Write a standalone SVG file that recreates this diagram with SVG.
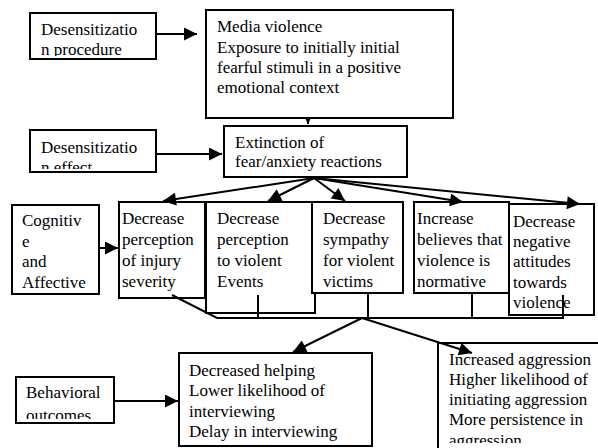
<svg xmlns="http://www.w3.org/2000/svg" width="598" height="448" viewBox="0 0 598 448">
<style>
.box{fill:#fff;stroke:#000;stroke-width:2}
.t{font-family:'Liberation Serif','DejaVu Serif',serif;font-size:17px;fill:#000}
.c{fill:none;stroke:#000;stroke-width:2}
.a{fill:none;stroke:#000;stroke-width:2;marker-end:url(#ah)}
</style>
<defs>
<marker id="ah" viewBox="0 0 12 12" refX="12" refY="6" markerWidth="14" markerHeight="13" orient="auto" markerUnits="userSpaceOnUse"><path d="M0,0 L12,6 L0,12 z" fill="#000"/></marker>
<clipPath id="cp1"><rect x="30" y="13" width="126" height="43"/></clipPath>
<clipPath id="cp2"><rect x="30" y="130" width="126" height="39"/></clipPath>
<clipPath id="cp3"><rect x="16" y="377" width="98" height="42"/></clipPath>
<clipPath id="cp4"><rect x="438" y="343" width="160" height="100"/></clipPath>
</defs>
<rect width="598" height="448" fill="#fff"/>
<g font-family="Liberation Serif, DejaVu Serif, serif">
<g id="connectors-top">
<line class="a" x1="156" y1="34" x2="197" y2="34"/>
<line class="a" x1="308" y1="118" x2="308" y2="124"/>
<line class="a" x1="156" y1="154" x2="222" y2="154"/>
</g>

<g id="n-proc">
<rect class="box" x="30" y="13" width="126" height="46"/>
<g clip-path="url(#cp1)"><text class="t" x="41" y="35">Desensitizatio</text><text class="t" x="41" y="55">n procedure</text></g>
</g>
<g id="n-media">
<rect class="box" x="206" y="10" width="247" height="108"/>
<text class="t" x="217" y="32">Media violence</text>
<text class="t" x="217" y="53">Exposure to initially initial</text>
<text class="t" x="217" y="73">fearful stimuli in a positive</text>
<text class="t" x="217" y="93">emotional context</text>
</g>
<g id="n-effect">
<rect class="box" x="30" y="130" width="126" height="42"/>
<g clip-path="url(#cp2)"><text class="t" x="41" y="153">Desensitizatio</text><text class="t" x="41" y="173">n effect</text></g>
</g>
<g id="n-extinction">
<rect class="box" x="224" y="126" width="183" height="51"/>
<text class="t" x="235" y="148">Extinction of</text>
<text class="t" x="235" y="167">fear/anxiety reactions</text>
</g>
<g id="n-cog">
<rect class="box" x="12" y="205" width="87" height="89"/>
<text class="t" x="22" y="226">Cognitiv</text>
<text class="t" x="22" y="247">e</text>
<text class="t" x="22" y="267">and</text>
<text class="t" x="22" y="288">Affective</text>
</g>
<g id="n-b2">
<rect class="box" x="206" y="202" width="109" height="111"/>
<text class="t" x="217" y="224">Decrease</text>
<text class="t" x="217" y="245">perception</text>
<text class="t" x="217" y="266">to violent</text>
<text class="t" x="217" y="287">Events</text>
</g>
<g id="n-b1">
<rect class="box" x="119" y="202" width="86" height="96"/>
<text class="t" x="122" y="224">Decrease</text>
<text class="t" x="122" y="245">perception</text>
<text class="t" x="122" y="266">of injury</text>
<text class="t" x="122" y="287">severity</text>
</g>
<g id="n-b3">
<rect class="box" x="312" y="202" width="91" height="91"/>
<text class="t" x="323" y="224">Decrease</text>
<text class="t" x="323" y="245">sympathy</text>
<text class="t" x="323" y="266">for violent</text>
<text class="t" x="323" y="287">victims</text>
</g>
<g id="n-b4">
<rect class="box" x="414" y="202" width="95" height="91"/>
<text class="t" x="417" y="224">Increase</text>
<text class="t" x="417" y="245">believes that</text>
<text class="t" x="417" y="266">violence is</text>
<text class="t" x="417" y="287">normative</text>
</g>
<g id="n-b5">
<rect class="box" x="509" y="204" width="85" height="111"/>
<text class="t" x="513" y="227">Decrease</text>
<text class="t" x="513" y="247">negative</text>
<text class="t" x="513" y="267">attitudes</text>
<text class="t" x="513" y="288">towards</text>
<text class="t" x="513" y="308">violence</text>
</g>
<g id="n-beh">
<rect class="box" x="16" y="377" width="98" height="46"/>
<g clip-path="url(#cp3)"><text class="t" x="26" y="398">Behavioral</text><text class="t" x="26" y="421">outcomes</text></g>
</g>
<g id="n-help">
<rect class="box" x="179" y="353" width="193" height="93"/>
<text class="t" x="189" y="376">Decreased helping</text>
<text class="t" x="189" y="396">Lower likelihood of</text>
<text class="t" x="189" y="417">interviewing</text>
<text class="t" x="189" y="437">Delay in interviewing</text>
</g>
<g id="n-aggr">
<rect class="box" x="438" y="343" width="170" height="120"/>
<g clip-path="url(#cp4)">
<text class="t" x="449" y="365">Increased aggression</text>
<text class="t" x="449" y="385">Higher likelihood of</text>
<text class="t" x="449" y="405">initiating aggression</text>
<text class="t" x="449" y="425">More persistence in</text>
<text class="t" x="449" y="446">aggression</text>
</g>
</g>

<g id="connectors">
<line class="a" x1="314" y1="178" x2="163" y2="201"/>
<line class="a" x1="314" y1="178" x2="268" y2="201"/>
<line class="a" x1="314" y1="178" x2="345" y2="201"/>
<line class="a" x1="314" y1="178" x2="463" y2="202"/>
<line class="a" x1="314" y1="178" x2="580" y2="204"/>
<line class="a" x1="99" y1="248" x2="118" y2="248"/>
<line class="a" x1="114" y1="401" x2="178" y2="401"/>
<polyline class="c" points="172,295 217,318 563,318 563,295"/>
<line class="c" x1="258" y1="295" x2="258" y2="318"/>
<line class="c" x1="368" y1="293" x2="368" y2="318"/>
<line class="c" x1="472" y1="293" x2="472" y2="318"/>
<line class="a" x1="362" y1="318" x2="293" y2="352"/>
<line class="a" x1="362" y1="318" x2="472" y2="353"/>
</g>
</g>
</svg>
